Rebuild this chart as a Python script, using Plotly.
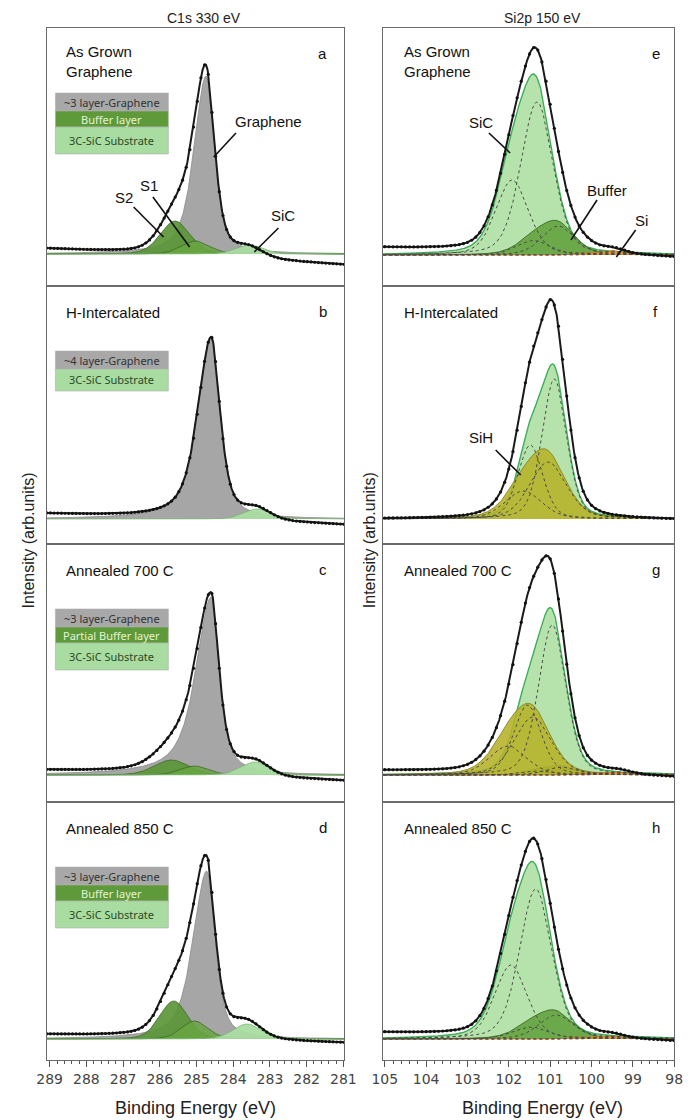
import numpy as np
import plotly.graph_objects as go

W, H = 695, 1120
MT, MB = 28, 60
PH = H - MT - MB


def px(x):
    return x / W


def py(y):
    return 1 - (y - MT) / PH


# ---- energy windows -------------------------------------------------------
C1S_RANGE = [289.08, 280.98]
SI2P_RANGE = [105.05, 98.0]

# ---- fitted components ----------------------------------------------------
# (group, centre eV, height, FWHM eV, Lorentzian fraction, high-BE width ratio)
C1S_A = [
    ("graphene", 284.74, 178, 0.55, 0.60, 1.40),
    ("S2", 285.58, 33, 0.95, 0.20, 1.00),
    ("S1", 285.02, 13, 0.90, 0.20, 1.00),
    ("SiC", 283.55, 9, 0.85, 0.20, 1.00),
]
C1S_B = [
    ("graphene", 284.60, 183, 0.58, 0.65, 1.50),
    ("SiC", 283.35, 10, 0.85, 0.20, 1.00),
]
C1S_C = [
    ("graphene", 284.60, 178, 0.52, 0.75, 1.90),
    ("S2", 285.68, 15, 1.10, 0.20, 1.00),
    ("S1", 285.05, 9, 0.90, 0.20, 1.00),
    ("SiC", 283.40, 13, 0.90, 0.20, 1.00),
]
C1S_D = [
    ("graphene", 284.72, 168, 0.55, 0.60, 1.60),
    ("S2", 285.62, 38, 0.90, 0.20, 1.00),
    ("S1", 285.05, 18, 0.85, 0.20, 1.00),
    ("SiC", 283.62, 15, 0.90, 0.20, 1.00),
]
SI2P_E = [
    ("SiC", 101.32, 153, 0.92, 0.30, 1.0),
    ("SiC", 101.92, 75, 0.92, 0.30, 1.0),
    ("Buffer", 100.80, 29, 0.95, 0.30, 1.0),
    ("Buffer", 101.40, 14.5, 0.95, 0.30, 1.0),
    ("Si", 99.45, 4, 0.60, 0.30, 1.0),
    ("Si", 100.05, 2, 0.60, 0.30, 1.0),
]
SI2P_F = [
    ("SiC", 100.90, 140, 0.70, 0.30, 1.0),
    ("SiC", 101.48, 74, 0.70, 0.30, 1.0),
    ("SiH", 101.05, 57, 1.05, 0.30, 1.0),
    ("SiH", 101.65, 28, 1.05, 0.30, 1.0),
]
SI2P_G = [
    ("SiC", 100.95, 150, 0.78, 0.30, 1.0),
    ("SiC", 101.55, 70, 0.78, 0.30, 1.0),
    ("SiH", 101.42, 58, 1.05, 0.30, 1.0),
    ("SiH", 102.02, 29, 1.05, 0.30, 1.0),
    ("Buffer", 100.70, 8, 0.90, 0.30, 1.0),
    ("Buffer", 101.30, 4, 0.90, 0.30, 1.0),
    ("Si", 99.30, 3, 0.60, 0.30, 1.0),
    ("Si", 99.90, 1.5, 0.60, 0.30, 1.0),
]
SI2P_H = [
    ("SiC", 101.35, 150, 0.92, 0.30, 1.0),
    ("SiC", 101.95, 74, 0.92, 0.30, 1.0),
    ("Buffer", 100.85, 24, 1.00, 0.30, 1.0),
    ("Buffer", 101.45, 12, 1.00, 0.30, 1.0),
    ("Si", 99.45, 3, 0.60, 0.30, 1.0),
    ("Si", 100.05, 1.5, 0.60, 0.30, 1.0),
]

# linear background under the measured spectrum: (high-BE end, low-BE end)
BACKGROUNDS = {"a": (5, -11), "b": (5, -6), "c": (4, -6), "d": (4, -4),
               "e": (7, -3), "f": (0, -1), "g": (4, -3), "h": (6, -3)}

# vertical window of each panel (same units as heights)
Y_RANGES = {"a": [-32, 226], "b": [-25, 233], "c": [-27, 231], "d": [-21, 237],
            "e": [-31, 227], "f": [-25, 233], "g": [-27, 231], "h": [-21, 237]}

PANEL_TITLES = {"a": "As Grown<br>Graphene", "b": "H-Intercalated",
                "c": "Annealed 700 C", "d": "Annealed 850 C",
                "e": "As Grown<br>Graphene", "f": "H-Intercalated",
                "g": "Annealed 700 C", "h": "Annealed 850 C"}

LEGEND_ROWS = {
    "a": ["~3 layer-Graphene", "Buffer layer", "3C-SiC Substrate"],
    "b": ["~4 layer-Graphene", "3C-SiC Substrate"],
    "c": ["~3 layer-Graphene", "Partial Buffer layer", "3C-SiC Substrate"],
    "d": ["~3 layer-Graphene", "Buffer layer", "3C-SiC Substrate"],
}

PANELS = [("a", C1S_A), ("b", C1S_B), ("c", C1S_C), ("d", C1S_D),
          ("e", SI2P_E), ("f", SI2P_F), ("g", SI2P_G), ("h", SI2P_H)]

# ---- styling ----------------------------------------------------------------
C1S_STYLE = {
    "graphene": ("rgba(166,166,166,1)", "#8a8a8a"),
    "S2": ("rgba(92,150,56,0.92)", "#3e6b27"),
    "S1": ("rgba(104,164,66,0.85)", "#3e6b27"),
    "SiC": ("rgba(168,220,160,0.95)", "#78b870"),
}
SI2P_STYLE = {
    "SiC": ("rgba(178,224,168,0.95)", "#3fae5a"),
    "Buffer": ("rgba(98,160,62,0.88)", "#3e6b27"),
    "SiH": ("rgba(182,178,40,0.88)", "#8a8420"),
    "Si": ("rgba(232,150,50,0.9)", "#d07a20"),
}
SI2P_ORDER = ["SiC", "Buffer", "SiH", "Si"]

FONT = "Liberation Sans, Arial, sans-serif"


def line_shape(e, c, h, w, eta, ratio):
    hw = np.where(e > c, w / 2 * ratio, w / 2)
    r = (e - c) / hw
    return h * (eta / (1 + r ** 2) + (1 - eta) * np.exp(-np.log(2) * r ** 2))


fig = go.Figure()
layout = {}
col_x = [[37 / W, 345 / W], [385 / W, 687 / W]]

for i, (key, comps) in enumerate(PANELS):
    n = i + 1
    col, row = divmod(i, 4)
    xa = "x" if n == 1 else f"x{n}"
    ya = "y" if n == 1 else f"y{n}"
    is_c1s = col == 0
    rng = C1S_RANGE if is_c1s else SI2P_RANGE
    e = np.round(np.arange(rng[1], rng[0] + 1e-9, 0.01), 3)

    curves = [line_shape(e, *cp[1:]) for cp in comps]
    total = np.sum(curves, axis=0)
    bh, bl = BACKGROUNDS[key]
    bg = bl + (bh - bl) * (e - e[0]) / (e[-1] - e[0])
    measured = total + bg

    if is_c1s:
        for cp, yv in zip(comps, curves):
            fc, lc = C1S_STYLE[cp[0]]
            fig.add_trace(go.Scatter(x=e, y=yv, mode="lines", fill="tozeroy",
                                     fillcolor=fc, line=dict(color=lc, width=0.8),
                                     xaxis=xa, yaxis=ya, hoverinfo="skip"))
    else:
        for grp in SI2P_ORDER:
            members = [yv for cp, yv in zip(comps, curves) if cp[0] == grp]
            if not members:
                continue
            fc, lc = SI2P_STYLE[grp]
            fig.add_trace(go.Scatter(x=e, y=np.sum(members, axis=0), mode="lines",
                                     fill="tozeroy", fillcolor=fc,
                                     line=dict(color=lc, width=1.4 if grp == "SiC" else 0.9),
                                     xaxis=xa, yaxis=ya, hoverinfo="skip"))
        for cp, yv in zip(comps, curves):
            fig.add_trace(go.Scatter(x=e, y=yv, mode="lines",
                                     line=dict(color="#4a4a4a", width=1, dash="dot"),
                                     xaxis=xa, yaxis=ya, hoverinfo="skip"))

    fig.add_trace(go.Scatter(x=e, y=measured, mode="lines",
                             line=dict(color="#1a1a1a", width=2),
                             xaxis=xa, yaxis=ya, hoverinfo="skip"))
    fig.add_trace(go.Scatter(x=e[::10], y=measured[::10], mode="markers",
                             marker=dict(color="#111", size=3.2, symbol="circle"),
                             xaxis=xa, yaxis=ya, hoverinfo="skip"))

    bottom = row == 3
    xcfg = dict(domain=col_x[col], range=rng, anchor=ya, showgrid=False,
                zeroline=False, showline=True, linecolor="#6a6a6a", linewidth=1,
                mirror=True, fixedrange=True)
    if bottom:
        xcfg.update(ticks="outside", ticklen=6, tickwidth=1, tickcolor="#555",
                    dtick=1, tick0=0, showticklabels=True,
                    tickfont=dict(family="DejaVu Sans, sans-serif", size=14, color="#444"),
                    minor=dict(dtick=0.2, ticks="outside", ticklen=3,
                               tickcolor="#555", tickwidth=1))
    else:
        xcfg.update(ticks="", showticklabels=False)
    ycfg = dict(domain=[1 - (row + 1) * 0.25, 1 - row * 0.25], range=Y_RANGES[key],
                anchor=xa, showgrid=False, zeroline=False, showline=True,
                linecolor="#6a6a6a", linewidth=1, mirror=True, ticks="",
                showticklabels=False, fixedrange=True)
    layout["xaxis" if n == 1 else f"xaxis{n}"] = xcfg
    layout["yaxis" if n == 1 else f"yaxis{n}"] = ycfg

annotations = []
shapes = []


def text(x, y, s, size=15, color="#111", xanchor="left", angle=0, family=FONT):
    annotations.append(dict(x=px(x), y=py(y), xref="paper", yref="paper", text=s,
                            showarrow=False, xanchor=xanchor, yanchor="middle",
                            textangle=angle, align="left",
                            font=dict(family=family, size=size, color=color)))


def leader(x0, y0, x1, y1):
    shapes.append(dict(type="line", xref="paper", yref="paper", x0=px(x0), y0=py(y0),
                       x1=px(x1), y1=py(y1), line=dict(color="#111", width=1.6)))


# column headings and axis titles
text(200, 18, "C1s 330 eV", 14, "#222", "center")
text(551, 18, "Si2p 150 eV", 14, "#222", "center")
text(191, 1108, "Binding Energy (eV)", 18, "#222", "center")
text(551, 1108, "Binding Energy (eV)", 18, "#222", "center")
text(18, 540, "Intensity (arb.units)", 16, "#222", "center", -90)
text(371, 540, "Intensity (arb.units)", 16, "#222", "center", -90)

# panel captions and letters
for i, (key, _) in enumerate(PANELS):
    col, row = divmod(i, 4)
    top = MT + row * 258
    x0 = 55 if col == 0 else 405
    if "<br>" in PANEL_TITLES[key]:
        text(x0, top + 33, PANEL_TITLES[key])
    else:
        text(x0, top + 26, PANEL_TITLES[key])
    text(323 if col == 0 else 668, top + 25, key, 15, "#111", "center")

# stacked colour keys in the C1s panels
ROW_STYLE = {
    "graphene": ("#a8a8a8", "#333333"),
    "buffer": ("#5e9a3a", "#e4f2d8"),
    "sic": ("#a9dca0", "#2a4a2a"),
}
for row, key in enumerate("abcd"):
    top = MT + row * 258 + 65
    labels = LEGEND_ROWS[key]
    if len(labels) == 3:
        kinds = ["graphene", "buffer", "sic"]
        heights = [18, 16, 27]
    else:
        kinds = ["graphene", "sic"]
        heights = [18, 22]
    y = top
    for lab, kind, hgt in zip(labels, kinds, heights):
        fc, tc = ROW_STYLE[kind]
        shapes.append(dict(type="rect", xref="paper", yref="paper", x0=px(46), x1=px(163),
                           y0=py(y), y1=py(y + hgt), fillcolor=fc,
                           line=dict(color="#b0b0b0", width=0.6), layer="above"))
        text(104.5, y + hgt / 2, lab, 11, tc, "center", family="Noto Sans, sans-serif")
        y += hgt

# component labels with leader lines
text(267, 122, "Graphene", 15, "#111", "center")
leader(233, 133, 210, 157)
text(143, 185, "S1", 15, "#111", "center")
leader(147, 197, 185, 247)
text(117, 197, "S2", 15, "#111", "center")
leader(127, 207, 158, 237)
text(282, 215, "SiC", 15, "#111", "center")
leader(277, 228, 252, 252)

text(487, 123, "SiC", 15, "#111", "center")
leader(495, 133, 517, 153)
text(617, 190, "Buffer", 15, "#111", "center")
leader(607, 200, 580, 240)
text(653, 220, "Si", 15, "#111", "center")
leader(647, 230, 627, 257)
text(487, 437, "SiH", 15, "#111", "center")
leader(502, 450, 528, 475)

fig.update_layout(width=W, height=H, margin=dict(l=0, r=0, t=MT, b=MB),
                  paper_bgcolor="white", plot_bgcolor="white", showlegend=False,
                  annotations=annotations, shapes=shapes, **layout)

fig.write_html("out.html")
